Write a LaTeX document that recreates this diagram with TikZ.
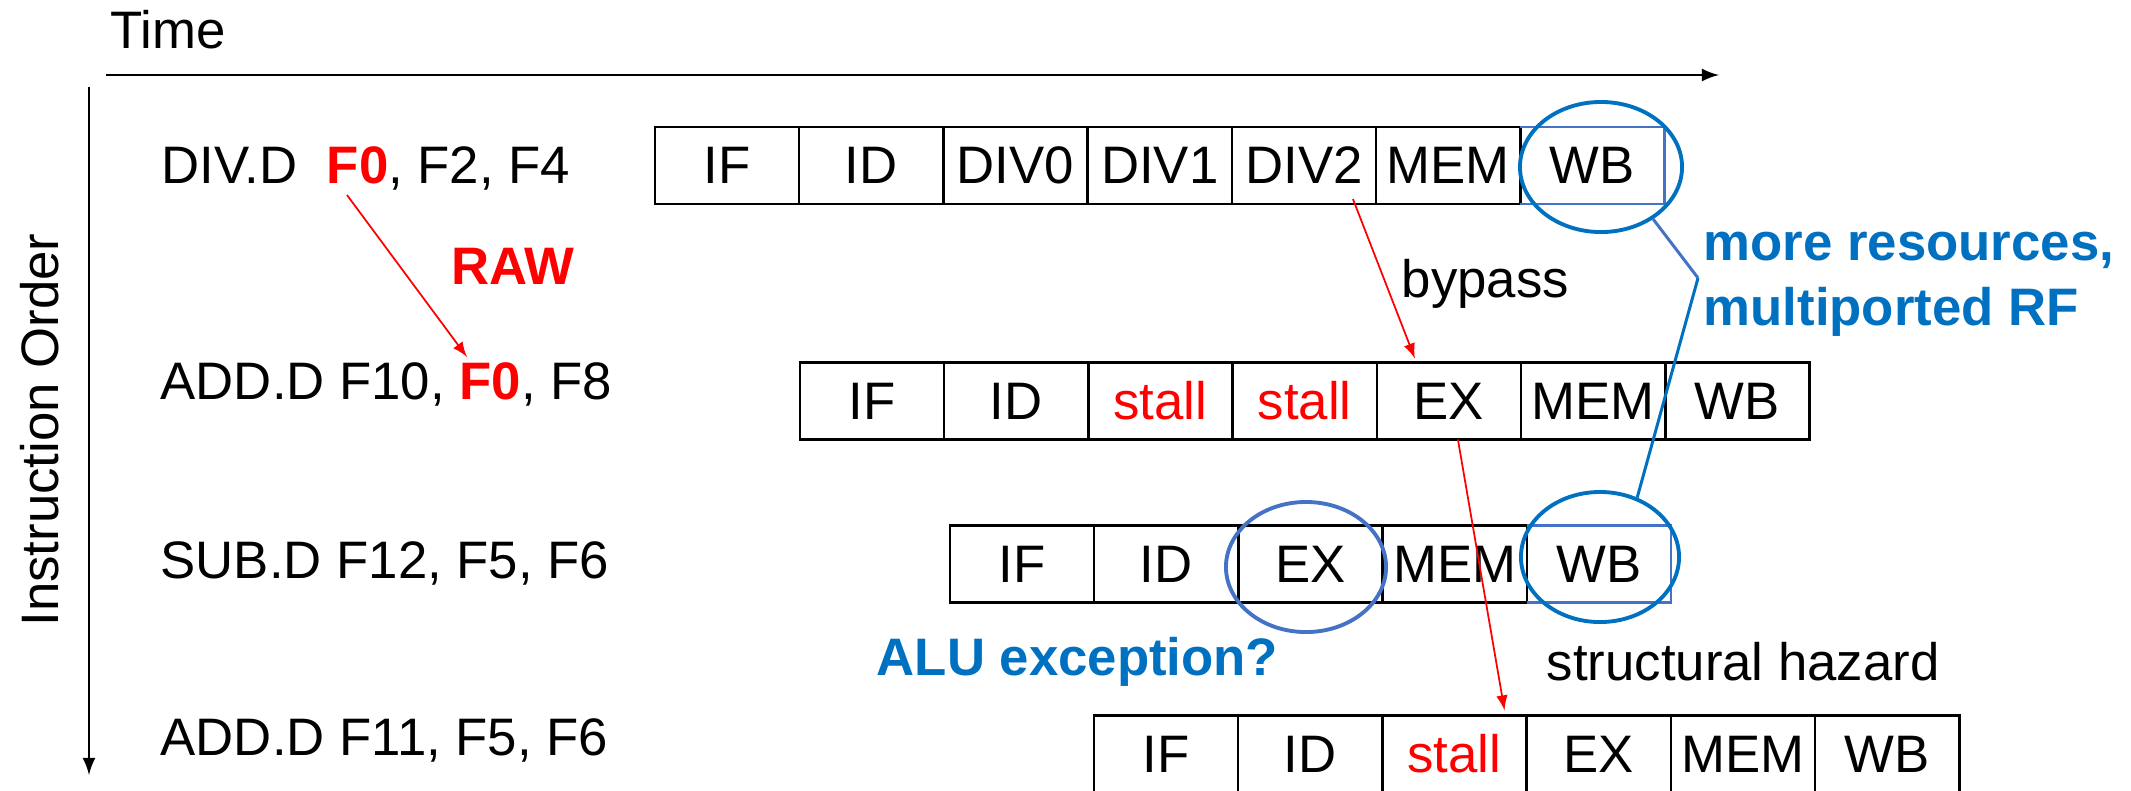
\documentclass[tikz,border=0pt]{standalone}
\usepackage{fontspec}
\setmainfont{Liberation Sans}
\usetikzlibrary{shapes.geometric}
\definecolor{ppblue}{HTML}{0070C0}
\definecolor{ppline}{HTML}{4472C4}
\tikzset{
stage/.style={draw,line width=0.7pt,minimum width=1.442cm,minimum height=0.77cm,inner sep=0pt,outer sep=0pt},
ring/.style={draw,ellipse,line width=1.1pt,minimum width=1.6cm,minimum height=1.3cm,inner sep=0pt},
hazard/.style={red,line width=0.5pt,-latex},
instr/.style={anchor=base west,inner sep=0pt},
}
\newcommand{\stl}{\textcolor{red}{stall}}
\begin{document}
\frenchspacing
\begin{tikzpicture}[x=0.01cm,y=-0.01cm,font=\fontsize{15}{18}\selectfont]
\useasboundingbox(0,0)rectangle(2131,790);
\pgfmathsetmacro{\w}{144.2}
\draw[line width=0.7pt,-latex](106,75)--(1719,75);
\draw[line width=0.7pt,-latex](89,87)--(89,775);
\node[instr](time) at (110,48){Time};
\node[rotate=90,anchor=base,inner sep=0pt](order) at (58,430){Instruction Order};
\node[instr](i1) at (161,183){DIV.D\ \ \textcolor{red}{\bfseries F0}, F2, F4};
\node[instr](i2) at (160,399){ADD.D F10, \textcolor{red}{\bfseries F0}, F8};
\node[instr](i3) at (160,578){SUB.D F12, F5, F6};
\node[instr](i4) at (160,755){ADD.D F11, F5, F6};
\foreach \t[count=\i] in {IF,ID,DIV0,DIV1,DIV2,MEM}
\node[stage](d\i) at ({655+\w*(\i-0.5)},165.5){\t};
\node[stage,draw=none](d7) at ({655+\w*6.5},165.5){WB};
\draw[ppline,line width=0.6pt](d6.north east)-|(d7.south east)--(d6.south east);
\foreach \t[count=\i] in {IF,ID,\stl,\stl,EX,MEM,WB}
\node[stage](a\i) at ({800+\w*(\i-0.5)},401){\t};
\foreach \t[count=\i] in {IF,ID,EX,MEM}
\node[stage](s\i) at ({950+\w*(\i-0.5)},564){\t};
\node[stage,draw=none](s5) at ({950+\w*4.5},564){WB};
\draw[ppline,line width=0.6pt](s4.north east)-|(s5.south east)--(s4.south east);
\foreach \t[count=\i] in {IF,ID,\stl,EX,MEM,WB}
\node[stage](b\i) at ({1094+\w*(\i-0.5)},754){\t};
\node[ring,ppblue,minimum width=1.62cm](r1) at (1601,167){};
\node[ring,ppline](r2) at (1306,567){};
\node[ring,ppblue,minimum width=1.58cm](r3) at (1600,557){};
\coordinate(k) at (1698,278);
\draw[ppline,line width=0.85pt](r1.-45)--(k);
\draw[ppblue,line width=0.85pt](k)--(r3.58);
\coordinate(raw0) at (347,195);
\coordinate(raw1) at (467,357);
\draw[hazard](raw0)--(raw1);
\draw[hazard]([xshift=4.9mm,yshift=.5mm]d5.south)--([xshift=-3.4mm,yshift=.4mm]a5.north);
\draw[hazard]([xshift=.9mm]a5.south)--([xshift=5mm,yshift=.5mm]b3.north);
\node[instr,red](raw) at (451,284){\bfseries RAW};
\node[instr](bypass) at (1401,297){bypass};
\node[instr,ppblue](more) at (1703,260){\bfseries more resources,};
\node[instr,ppblue](ported) at (1703,325){\bfseries multiported RF};
\node[instr,ppblue](alu) at (876,675){\bfseries ALU exception?};
\node[instr](struct) at (1546,680){structural hazard};
\end{tikzpicture}
\end{document}
